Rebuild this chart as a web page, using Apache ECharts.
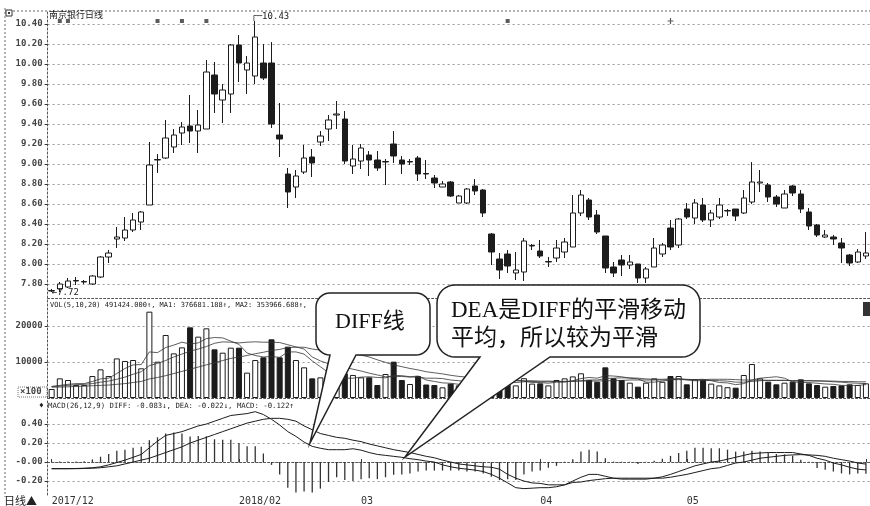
<!DOCTYPE html>
<html><head><meta charset="utf-8">
<script src="https://cdn.jsdelivr.net/npm/echarts@6/dist/echarts.min.js"></script>
<style>html,body{margin:0;padding:0;background:#fff}#c{width:870px;height:506px}</style>
</head><body><div id="c"></div>
<script>
// [open, close, low, high]
const candles = [
[7.73,7.735,7.72,7.75],[7.75,7.80,7.72,7.82],[7.77,7.83,7.76,7.86],[7.83,7.835,7.79,7.87],[7.82,7.825,7.80,7.84],
[7.80,7.88,7.79,7.89],[7.87,8.07,7.86,8.08],[8.07,8.11,8.01,8.14],[8.25,8.27,8.16,8.37],[8.26,8.34,8.23,8.47],
[8.34,8.44,8.32,8.51],[8.42,8.52,8.34,8.53],[8.59,8.99,8.59,9.22],[9.04,9.045,8.91,9.10],[9.06,9.26,9.05,9.44],
[9.17,9.29,9.11,9.35],[9.31,9.37,9.19,9.42],[9.38,9.33,9.21,9.69],[9.33,9.39,9.11,9.54],[9.35,9.92,9.35,10.04],
[9.89,9.70,9.51,10.02],[9.64,9.74,9.41,9.80],[9.70,10.19,9.51,10.20],[10.19,10.01,9.82,10.29],[9.94,10.01,9.70,10.08],
[9.88,10.27,9.80,10.43],[10.01,9.86,9.84,10.20],[10.01,9.40,9.36,10.22],[9.29,9.25,9.07,9.61],[8.90,8.72,8.56,8.96],
[8.77,8.88,8.66,8.94],[8.92,9.06,8.90,9.19],[9.07,9.01,8.87,9.15],[9.22,9.28,9.18,9.33],[9.35,9.44,9.23,9.49],
[9.49,9.50,9.35,9.63],[9.45,9.03,9.00,9.53],[8.98,9.05,8.90,9.19],[9.03,9.16,8.95,9.20],[9.09,9.04,8.88,9.13],
[9.04,8.96,8.93,9.13],[9.02,9.025,8.79,9.05],[9.20,9.08,9.01,9.33],[9.04,9.00,8.90,9.08],[9.02,9.025,8.99,9.05],
[9.06,8.90,8.83,9.08],[8.905,8.90,8.85,9.04],[8.86,8.81,8.76,8.89],[8.77,8.80,8.77,8.83],[8.82,8.68,8.67,8.83],
[8.61,8.68,8.61,8.69],[8.61,8.75,8.60,8.76],[8.78,8.73,8.69,8.85],[8.74,8.51,8.47,8.75],[8.30,8.12,7.99,8.31],
[8.05,7.94,7.85,8.11],[8.10,7.98,7.91,8.14],[7.91,7.94,7.84,8.12],[7.92,8.23,7.83,8.26],[8.18,8.185,8.14,8.20],
[8.13,8.08,8.06,8.24],[8.02,8.025,7.97,8.07],[8.06,8.16,8.02,8.24],[8.12,8.22,8.06,8.26],[8.17,8.51,8.17,8.69],
[8.51,8.69,8.48,8.74],[8.64,8.47,8.44,8.66],[8.49,8.32,8.30,8.54],[8.28,7.96,7.91,8.28],[7.97,7.91,7.87,8.02],
[8.04,7.99,7.88,8.09],[7.99,8.02,7.95,8.09],[8.00,7.86,7.81,8.00],[7.86,7.95,7.81,7.97],[7.97,8.16,7.97,8.26],
[8.10,8.19,8.07,8.21],[8.36,8.17,8.14,8.44],[8.19,8.45,8.16,8.46],[8.55,8.47,8.45,8.61],[8.46,8.61,8.40,8.65],
[8.59,8.44,8.42,8.66],[8.44,8.51,8.37,8.54],[8.47,8.59,8.45,8.66],[8.53,8.535,8.48,8.55],[8.55,8.48,8.43,8.55],
[8.51,8.66,8.50,8.74],[8.62,8.82,8.60,9.02],[8.81,8.82,8.72,8.94],[8.79,8.67,8.62,8.81],[8.67,8.60,8.57,8.69],
[8.56,8.70,8.56,8.74],[8.78,8.71,8.68,8.79],[8.70,8.55,8.51,8.74],[8.52,8.38,8.34,8.56],[8.39,8.29,8.27,8.40],
[8.27,8.29,8.26,8.34],[8.27,8.25,8.19,8.29],[8.21,8.16,8.01,8.26],[8.09,8.01,7.98,8.10],[8.02,8.12,8.01,8.15],
[8.08,8.11,8.05,8.32]
];
const volumes = [
2500,5460,5000,3600,3600,6100,7960,6100,11000,10280,
10550,8240,23980,10090,17500,12400,14070,19630,17040,19350,
13520,12590,13980,13980,7040,10550,11300,16300,11300,14260,
10550,8520,5460,5740,5500,5000,6850,6400,5740,5740,
3600,6670,10090,5000,3890,6100,3750,3600,2960,4000,
3500,4500,3800,5500,6000,4500,4000,3500,5500,4000,
4070,3500,5000,5460,6000,6860,5000,4500,8520,5460,
5000,4260,3150,4260,5460,4500,6110,6110,3800,5190,
5000,4000,3500,3000,2870,6390,9440,5460,4540,3800,
4260,4540,5190,4070,3610,3150,3330,3500,3800,3610,
4070
];
const volMA5 = [
3200,3500,3800,4000,4000,4600,5300,5500,6800,8200,
9200,9300,12800,12600,14000,14700,15500,15000,15300,16500,
16800,16700,15800,14900,12500,11800,11400,11500,11300,12800,
12800,12200,10300,8700,7000,5800,5500,5500,5800,5900,
5700,5600,6300,6200,5900,6100,5000,4600,4200,4100,
3800,3800,3700,4300,4800,4900,4800,4800,4700,4300,
4300,4100,4400,4400,4800,5400,5700,5500,6200,6100,
5900,5500,5300,4400,4400,4700,5000,5300,5200,5100,
5200,4800,4300,4200,3700,4000,5000,5500,5700,5900,
5500,4500,4300,4300,4100,3900,3800,3500,3500,3500,
3700
];
const volMA10 = [
3200,3300,3500,3700,3800,4000,4400,4700,5200,5800,
6600,7300,9000,9600,10400,11400,12200,13000,13600,14300,
15200,15600,15500,15300,15500,15600,15500,15500,15400,14800,
14200,13600,11400,10300,9500,8900,8500,8000,7500,6900,
6400,5900,5900,6000,5800,5800,5500,5500,5400,5000,
4800,4500,4200,4200,4400,4500,4400,4300,4500,4600,
4500,4500,4600,4600,4600,4800,5000,5000,5400,5500,
5600,5600,5500,5300,5200,5200,5300,5400,5000,4800,
4800,4900,4800,4700,4400,4400,4600,4800,4900,4900,
4900,4800,4800,4800,4700,4700,4500,4400,4200,4100,
4000
];
const volMA20 = [
3000,3050,3100,3200,3300,3400,3500,3600,3800,4000,
4300,4600,5300,5700,6200,6800,7400,8000,8600,9200,
9800,10400,11000,11400,11800,12300,12700,13200,13500,14000,
14100,14100,13600,13300,13000,12700,12500,12200,11900,11400,
10600,9900,9200,8700,8200,7800,7300,7000,6700,6300,
6000,5800,5600,5400,5200,5100,5000,4900,4800,4800,
4700,4700,4600,4600,4700,4700,4700,4700,4800,4800,
4900,5000,5000,5000,5000,5000,5100,5100,5100,5100,
5100,5200,5200,5200,5100,5000,5000,5000,4900,4900,
4900,4800,4800,4800,4800,4700,4700,4600,4600,4500,
4500
];
const diff = [
-0.07,-0.07,-0.07,-0.068,-0.065,-0.06,-0.05,-0.03,-0.005,0.02,
0.05,0.08,0.15,0.22,0.28,0.30,0.32,0.35,0.38,0.40,
0.43,0.46,0.49,0.50,0.51,0.53,0.50,0.45,0.39,0.32,
0.27,0.21,0.165,0.145,0.13,0.13,0.13,0.14,0.125,0.10,
0.08,0.07,0.06,0.05,0.035,0.025,0.01,0.0,-0.03,-0.05,
-0.065,-0.075,-0.085,-0.10,-0.13,-0.17,-0.22,-0.27,-0.28,-0.275,
-0.27,-0.27,-0.26,-0.24,-0.20,-0.16,-0.13,-0.13,-0.15,-0.17,
-0.18,-0.18,-0.18,-0.18,-0.17,-0.155,-0.13,-0.10,-0.07,-0.04,
-0.02,0.0,0.01,0.03,0.05,0.07,0.09,0.095,0.10,0.10,
0.10,0.10,0.085,0.07,0.04,0.02,-0.01,-0.03,-0.055,-0.075,
-0.083
];
const dea = [
-0.07,-0.07,-0.07,-0.07,-0.068,-0.065,-0.06,-0.05,-0.04,-0.02,
0.0,0.02,0.04,0.07,0.10,0.13,0.16,0.20,0.23,0.26,
0.29,0.32,0.35,0.38,0.41,0.43,0.45,0.46,0.46,0.45,
0.43,0.38,0.34,0.30,0.28,0.26,0.25,0.23,0.215,0.19,
0.17,0.15,0.13,0.115,0.10,0.08,0.06,0.045,0.02,0.0,
-0.02,-0.03,-0.04,-0.05,-0.055,-0.075,-0.13,-0.17,-0.20,-0.22,
-0.225,-0.24,-0.24,-0.24,-0.215,-0.21,-0.195,-0.185,-0.175,-0.17,
-0.17,-0.17,-0.17,-0.17,-0.17,-0.17,-0.16,-0.145,-0.13,-0.11,
-0.09,-0.07,-0.06,-0.035,-0.01,0.0,0.02,0.04,0.05,0.06,
0.07,0.075,0.078,0.075,0.07,0.06,0.04,0.025,0.01,-0.01,
-0.022
];
const macdHist = [
0.003,0.005,0.005,0.005,0.008,0.028,0.056,0.084,0.12,0.13,
0.15,0.16,0.23,0.26,0.30,0.31,0.30,0.27,0.275,0.27,
0.24,0.235,0.235,0.20,0.165,0.165,0.09,-0.03,-0.13,-0.27,
-0.32,-0.31,-0.32,-0.28,-0.21,-0.16,-0.19,-0.20,-0.18,-0.17,
-0.18,-0.16,-0.135,-0.13,-0.12,-0.10,-0.09,-0.09,-0.09,-0.09,
-0.09,-0.10,-0.10,-0.12,-0.155,-0.19,-0.18,-0.19,-0.13,-0.10,
-0.09,-0.06,-0.04,0.004,0.03,0.11,0.13,0.11,0.04,0.005,
0.004,0.003,-0.02,0.004,0.014,0.035,0.065,0.095,0.12,0.15,
0.15,0.145,0.145,0.13,0.11,0.11,0.12,0.11,0.095,0.085,
0.08,0.067,0.025,0.004,-0.063,-0.08,-0.10,-0.12,-0.13,-0.12,
-0.122
];
const priceTicks = [7.8,8.0,8.2,8.4,8.6,8.8,9.0,9.2,9.4,9.6,9.8,10.0,10.2,10.4];
const volTicks = [10000,20000];
const macdTicks = [-0.2,0,0.2,0.4];
const monthLabels = {0:'2017/12',23:'2018/02',38:'03',60:'04',78:'05'};
const monthTickIdx = [0,23,38,60,78,100];
const signalRectIdx = [1,2,13,16,19,56];
const signalPlusIdx = [76];
const signalLevel = 10.43;
const highIdx = 25, highVal = 10.43;
const lowIdx = 0, lowVal = 7.72;

const days = candles.map((_, i) => i);
const INK = '#1c1c1c';
const upStyle = {color:'#fff', borderColor:INK, borderWidth:1};
const downStyle = {color:INK, borderColor:INK, borderWidth:1};
const monoFont = '"DejaVu Sans Mono", monospace';
const gridDash = {type:[2,3], color:'#9a9a9a', width:1};

const L = 47.6, W = 823;
const chart = echarts.init(document.getElementById('c'), null, {renderer:'canvas'});

// speech-bubble outline as polygon points (rounded rect + tail)
function bubble(l,t,r,b,rad,x1,x2,ax,ay){
  const pts = [];
  const arc = (cx,cy,a0,a1) => { for (let k=0;k<=8;k++){ const a=(a0+(a1-a0)*k/8)*Math.PI/180; pts.push([cx+rad*Math.cos(a), cy+rad*Math.sin(a)]); } };
  arc(r-rad, t+rad, -90, 0);
  arc(r-rad, b-rad, 0, 90);
  pts.push([x2,b]); pts.push([ax,ay]); pts.push([x1,b]);
  arc(l+rad, b-rad, 90, 180);
  arc(l+rad, t+rad, 180, 270);
  return pts;
}

const catAxis = (gi, showLabel) => ({
  type:'category', gridIndex:gi, data:days, boundaryGap:true,
  axisLine:{show:true, lineStyle:{color:'#555', type:[2,2], width:1}},
  axisTick:{show:showLabel, alignWithLabel:true, interval:(i)=>monthTickIdx.indexOf(i)>=0, length:3, inside:true, lineStyle:{color:'#333'}},
  axisLabel:{show:showLabel, interval:0, align:'left', margin:1, fontSize:10, fontFamily:monoFont, color:'#333',
    formatter:(v,i)=>monthLabels[i]||''},
  splitLine:{show:false}
});
const valAxisBase = {
  type:'value', position:'left', scale:true,
  axisLine:{show:true, lineStyle:{color:'#555', type:[2,2], width:1}},
  splitLine:{show:true, lineStyle:gridDash}
};

const option = {
  animation:false,
  backgroundColor:'#fff',
  grid:[
    {left:L, width:W, top:11, height:287},
    {left:L, width:W, top:298, height:100},
    {left:L, width:W, top:400, height:95}
  ],
  xAxis:[catAxis(0,false), catAxis(1,false), catAxis(2,true)],
  yAxis:[
    Object.assign({}, valAxisBase, {gridIndex:0, min:7.66, max:10.53,
      axisTick:{show:true, customValues:priceTicks, length:3, lineStyle:{color:'#333'}},
      axisLabel:{customValues:priceTicks, formatter:v=>v.toFixed(2), fontSize:9, fontWeight:'bold', fontFamily:monoFont, color:'#444', margin:5}}),
    Object.assign({}, valAxisBase, {gridIndex:1, min:0, max:27778,
      axisTick:{show:true, customValues:volTicks, length:3, lineStyle:{color:'#333'}},
      axisLabel:{customValues:volTicks, formatter:v=>String(v), fontSize:9, fontWeight:'bold', fontFamily:monoFont, color:'#444', margin:5}}),
    Object.assign({}, valAxisBase, {gridIndex:2, min:-0.347, max:0.653,
      axisTick:{show:true, customValues:macdTicks, length:3, lineStyle:{color:'#333'}},
      axisLabel:{customValues:macdTicks, formatter:v=>(Math.abs(v)<1e-9?'-0.00':v.toFixed(2)), fontSize:9, fontWeight:'bold', fontFamily:monoFont, color:'#444', margin:5}})
  ],
  series:[
    {type:'candlestick', name:'K', xAxisIndex:0, yAxisIndex:0, data:candles, barWidth:6,
      itemStyle:{color:'#fff', color0:INK, borderColor:INK, borderColor0:INK, borderWidth:1},
      markPoint:{symbol:'circle', symbolSize:0.1, silent:true, animation:false,
        data:[
          {coord:[highIdx, highVal], label:{show:true, formatter:'┌─'+highVal.toFixed(2), position:'right', distance:0, offset:[-4,-4], fontSize:9, fontFamily:monoFont, color:'#222'}},
          {coord:[lowIdx, lowVal], label:{show:true, formatter:'←'+lowVal.toFixed(2), position:'right', distance:1, offset:[-1,1], fontSize:9, fontFamily:monoFont, color:'#222'}}
        ]}
    },
    {type:'scatter', xAxisIndex:0, yAxisIndex:0, symbol:'rect', symbolSize:4, itemStyle:{color:'#333'},
      data:signalRectIdx.map(i=>[i, signalLevel])},
    {type:'scatter', xAxisIndex:0, yAxisIndex:0, symbol:'path://M2,0H3V2H5V3H3V5H2V3H0V2H2Z', symbolSize:6, itemStyle:{color:'#333'},
      data:signalPlusIdx.map(i=>[i, signalLevel])},
    {type:'bar', xAxisIndex:1, yAxisIndex:1, barWidth:6,
      data:volumes.map((v,i)=>({value:v, itemStyle:(candles[i][1]>=candles[i][0]?upStyle:downStyle)}))},
    {type:'line', xAxisIndex:1, yAxisIndex:1, data:volMA5, symbol:'none', lineStyle:{color:'#333', width:0.8}},
    {type:'line', xAxisIndex:1, yAxisIndex:1, data:volMA10, symbol:'none', lineStyle:{color:'#333', width:0.8}},
    {type:'line', xAxisIndex:1, yAxisIndex:1, data:volMA20, symbol:'none', lineStyle:{color:'#333', width:0.8}},
    {type:'bar', xAxisIndex:2, yAxisIndex:2, barWidth:1.3, data:macdHist, itemStyle:{color:'#333'}},
    {type:'line', xAxisIndex:2, yAxisIndex:2, data:diff, symbol:'none', lineStyle:{color:INK, width:1}},
    {type:'line', xAxisIndex:2, yAxisIndex:2, data:dea, symbol:'none', lineStyle:{color:INK, width:1}}
  ],
  graphic:[
    {type:'line', shape:{x1:5, y1:11, x2:870, y2:11}, style:{stroke:'#666', lineDash:[2,2], lineWidth:1}},
    {type:'line', shape:{x1:5, y1:8, x2:5, y2:497}, style:{stroke:'#666', lineDash:[2,2], lineWidth:1}},
    {type:'rect', shape:{x:6, y:10, width:6, height:6}, style:{fill:'#fff', stroke:'#333', lineWidth:1}},
    {type:'rect', shape:{x:8, y:12, width:2, height:2}, style:{fill:'#333'}},
    {type:'text', x:49, y:10, style:{text:'南京银行日线', font:'9px "Noto Sans CJK SC"', fill:'#222'}},
    {type:'text', x:50, y:302, style:{text:'VOL(5,10,20) 491424.000↑, MA1: 376681.188↑, MA2: 353966.688↑,', font:'7px '+monoFont, fill:'#222'}},
    {type:'text', x:48, y:403, style:{text:'MACD(26,12,9) DIFF: -0.083↓, DEA: -0.022↓, MACD: -0.122↑', font:'7.3px '+monoFont, fill:'#222'}},
    {type:'text', x:39, y:402, style:{text:'♦', font:'8px '+monoFont, fill:'#222'}},
    {type:'rect', shape:{x:18, y:387, width:29, height:10}, style:{fill:'none', stroke:'#777', lineDash:[1,1], lineWidth:1}},
    {type:'text', x:20, y:387, style:{text:'×100', font:'bold 9px '+monoFont, fill:'#444'}},
    {type:'text', x:4, y:495, style:{text:'日线▲', font:'11px "Noto Sans CJK SC"', fill:'#222'}},
    {type:'rect', shape:{x:863, y:302, width:7, height:14}, style:{fill:'#333'}},
    {type:'polygon', z:100, shape:{points:bubble(316,293,430,355,14,330,356,310,443)}, style:{fill:'#fff', stroke:'#222', lineWidth:1.5}},
    {type:'text', z:101, x:335, y:311, style:{text:'DIFF线', font:'22px "Liberation Serif", "Noto Sans CJK SC"', fill:'#111'}},
    {type:'polygon', z:100, shape:{points:bubble(437,285,700,357,18,480,550,405,457)}, style:{fill:'#fff', stroke:'#222', lineWidth:1.5}},
    {type:'text', z:101, x:451, y:297, style:{text:'DEA是DIFF的平滑移动\n平均，所以较为平滑', font:'23px "Liberation Serif", "Noto Sans CJK SC"', lineHeight:28, fill:'#111'}}
  ]
};
chart.setOption(option);
</script></body></html>
